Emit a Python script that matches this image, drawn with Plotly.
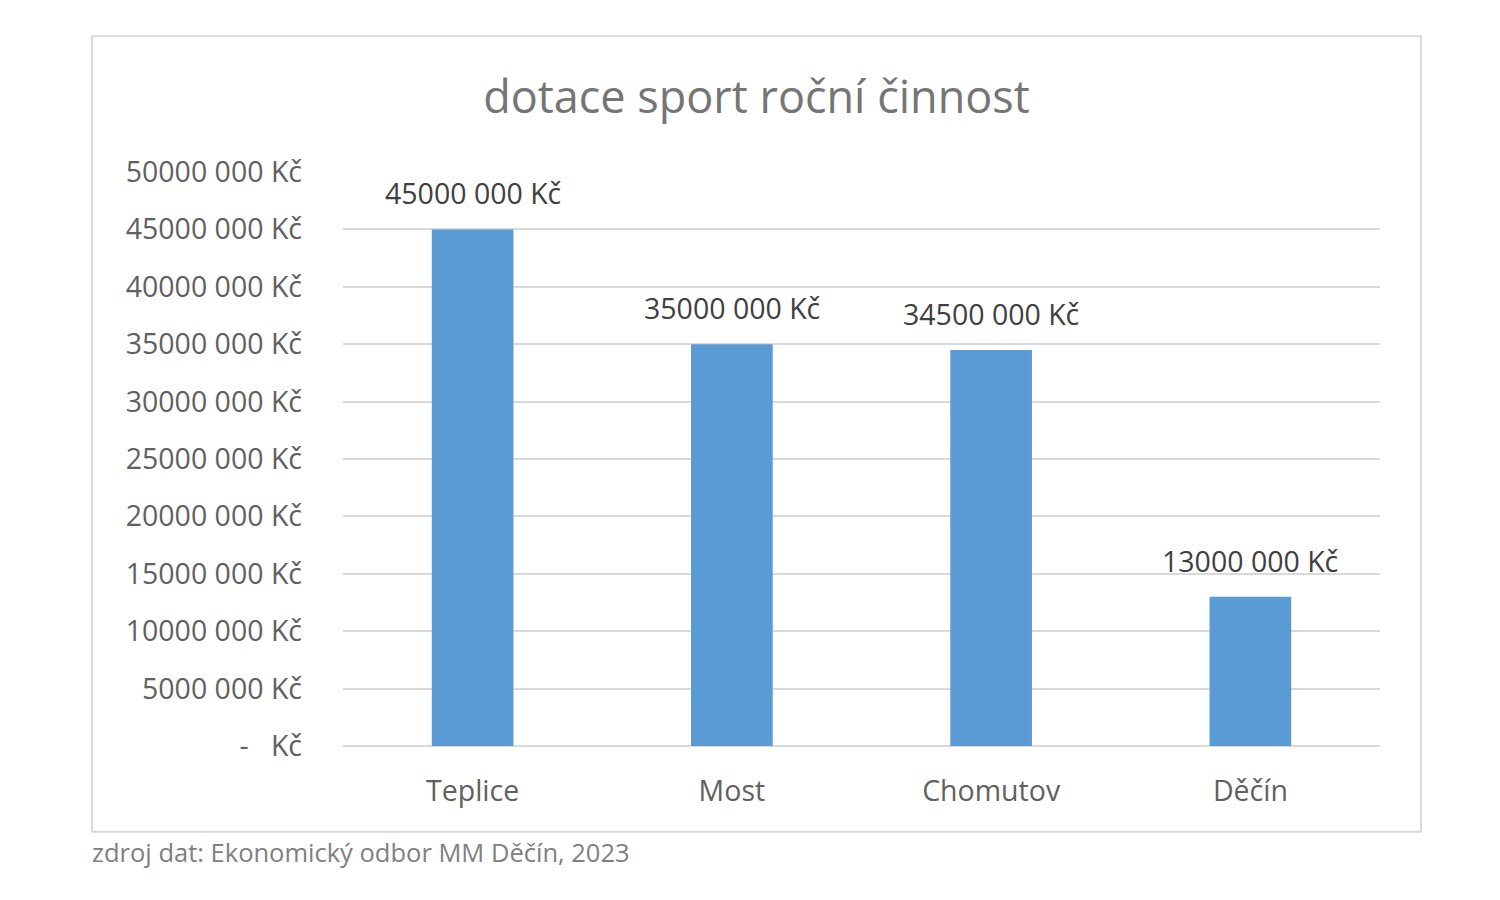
import plotly.graph_objects as go

categories = ["Teplice", "Most", "Chomutov", "Děčín"]
values = [45000000, 35000000, 34500000, 13000000]
value_labels = ["45000 000 Kč", "35000 000 Kč", "34500 000 Kč", "13000 000 Kč"]
tick_values = [0, 5000000, 10000000, 15000000, 20000000, 25000000,
               30000000, 35000000, 40000000, 45000000, 50000000]
tick_labels = ["-   Kč", "5000 000 Kč", "10000 000 Kč", "15000 000 Kč", "20000 000 Kč",
               "25000 000 Kč", "30000 000 Kč", "35000 000 Kč", "40000 000 Kč",
               "45000 000 Kč", "50000 000 Kč"]
title_text = "dotace sport roční činnost"
source_text = "zdroj dat: Ekonomický odbor MM Děčín, 2023"

FONT = "Open Sans"

fig = go.Figure()
fig.add_trace(go.Bar(
    x=categories, y=values,
    marker=dict(color="#5B9BD5", line=dict(width=0)),
    hoverinfo="skip",
))

for c, v, t in zip(categories, values, value_labels):
    fig.add_annotation(x=c, y=v, text=t, showarrow=False, yanchor="middle",
                       yshift=36, font=dict(family=FONT, size=28.5, color="#404040"))

fig.add_annotation(xref="paper", yref="paper", x=-0.244, y=-0.1843,
                   xanchor="left", yanchor="middle", showarrow=False,
                   text=source_text, font=dict(family=FONT, size=25.5, color="#808080"))

fig.add_shape(type="rect", xref="paper", yref="paper",
              x0=-0.242, x1=1.0395, y0=-0.1496, y1=1.2365,
              line=dict(color="#d9d9d9", width=2), fillcolor="rgba(0,0,0,0)", layer="below")

fig.update_layout(
    width=1500, height=900,
    margin=dict(l=335, r=128, t=164, b=162),
    paper_bgcolor="white", plot_bgcolor="white",
    bargap=0.685,
    showlegend=False,
    title=dict(text=title_text, x=0.499, xanchor="center", y=0.901, yanchor="middle",
               xref="container", yref="container",
               font=dict(family=FONT, size=45, color="#757575")),
    font=dict(family=FONT, color="#595959"),
)
fig.update_xaxes(showgrid=False, showline=False, ticks="",
                 tickfont=dict(family=FONT, size=28.5, color="#616161"),
                 ticklabelstandoff=25)
fig.update_yaxes(range=[0, 50000000], tickvals=tick_values, ticktext=tick_labels,
                 showgrid=True, gridcolor="#d9d9d9", gridwidth=2,
                 zeroline=True, zerolinecolor="#d9d9d9", zerolinewidth=2,
                 showline=False, ticks="",
                 tickfont=dict(family=FONT, size=28.5, color="#616161"),
                 ticklabelstandoff=40)

fig.write_html("out.html")
